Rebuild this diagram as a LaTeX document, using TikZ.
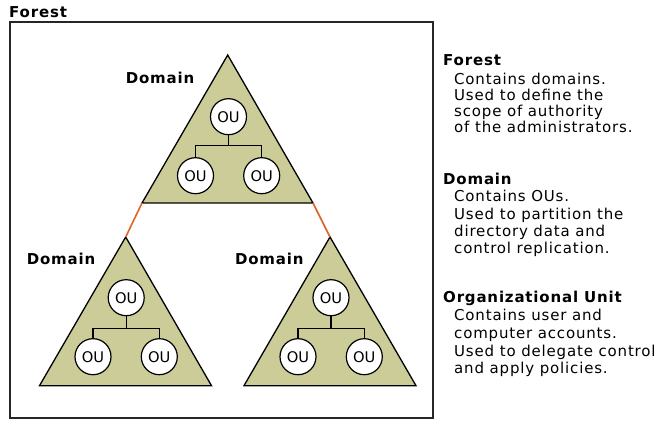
\documentclass[tikz,border=0pt]{standalone}
\usepackage{fontspec}
\setmainfont{DejaVu Sans}
\newfontfamily\txtfont[LetterSpace=5.5]{DejaVu Sans}
\definecolor{khaki}{RGB}{204,204,153}
\definecolor{linkorange}{RGB}{222,100,40}
\begin{document}
\begin{tikzpicture}[x=1pt,y=-1pt,
  ou/.style={circle, draw=black, line width=1.2pt, fill=white, minimum size=36pt, inner sep=0pt, font=\fontsize{14.67}{16}\selectfont},
  tri/.style={draw=black, fill=khaki, line width=1.3pt, line join=miter},
  tree/.style={draw=black, line width=1.2pt},
  link/.style={draw=linkorange, line width=1.6pt},
  frame/.style={draw=black!85, line width=1.3pt},
  dlabel/.style={font=\txtfont\bfseries\fontsize{15}{16}\selectfont, inner sep=0pt},
  head/.style={anchor=base west, inner sep=0pt, font=\txtfont\bfseries\fontsize{15}{16}\selectfont},
  body/.style={anchor=base west, inner sep=0pt, font=\txtfont\fontsize{15}{16}\selectfont}
]
\useasboundingbox (0,0) rectangle (665,425);
% forest frame
\draw[frame] (10,22) rectangle (433,418);
\node[head] (forestTitle) at (9,17.5) {Forest};

% triangle corners
\coordinate (A1) at (227.7,55);  \coordinate (L1) at (142,203);   \coordinate (R1) at (313,203);
\coordinate (A2) at (125.7,237); \coordinate (L2) at (39.5,385.7); \coordinate (R2) at (211.5,385.7);
\coordinate (A3) at (330,237);   \coordinate (L3) at (244,385.7);  \coordinate (R3) at (416,385.7);

\path[tri] (A1) -- (L1) -- (R1) -- cycle;
\path[tri] (A2) -- (L2) -- (R2) -- cycle;
\path[tri] (A3) -- (L3) -- (R3) -- cycle;

% trust links
\draw[link] (L1) -- (A2);
\draw[link] (R1) -- (A3);

% domain labels
\node[dlabel] (d1) at (160,77.7) {Domain};
\node[dlabel] (d2) at (61,259) {Domain};
\node[dlabel] (d3) at (269.3,259) {Domain};

% OU trees
\node[ou] (t1) at (228.5,116.7) {OU};
\node[ou] (l1) at (195.5,175.7) {OU};
\node[ou] (r1) at (261.7,175.7) {OU};
\coordinate (j1) at (228.5,145.7);

\node[ou] (t2) at (126.2,297.7) {OU};
\node[ou] (l2) at (93,356.7) {OU};
\node[ou] (r2) at (159.3,356.7) {OU};
\coordinate (j2) at (126.2,328.3);

\node[ou] (t3) at (331,297.7) {OU};
\node[ou] (l3) at (298,356.7) {OU};
\node[ou] (r3) at (364.3,356.7) {OU};
\coordinate (j3) at (331,328.3);

\foreach \i in {1,2,3} {
  \draw[tree] (t\i) -- (j\i);
  \draw[tree] (j\i) -| (l\i);
  \draw[tree] (j\i) -| (r\i);
}

% legend
\node[head] (hF) at (443,65.5) {Forest};
\node[body] (f1) at (454,84.3) {Contains domains.};
\node[body] (f2) at (454,100.3) {Used to define the};
\node[body] (f3) at (454,116.3) {scope of authority};
\node[body] (f4) at (454,132.3) {of the administrators.};

\node[head] (hD) at (443,184.5) {Domain};
\node[body] (g1) at (454,202) {Contains OUs.};
\node[body] (g2) at (454,219.3) {Used to partition the};
\node[body] (g3) at (454,236.5) {directory data and};
\node[body] (g4) at (454,253.5) {control replication.};

\node[head] (hO) at (443,303) {Organizational Unit};
\node[body] (o1) at (454,320.7) {Contains user and};
\node[body] (o2) at (454,338.3) {computer accounts.};
\node[body] (o3) at (454,356) {Used to delegate control};
\node[body] (o4) at (454,373.3) {and apply policies.};
\end{tikzpicture}
\end{document}
